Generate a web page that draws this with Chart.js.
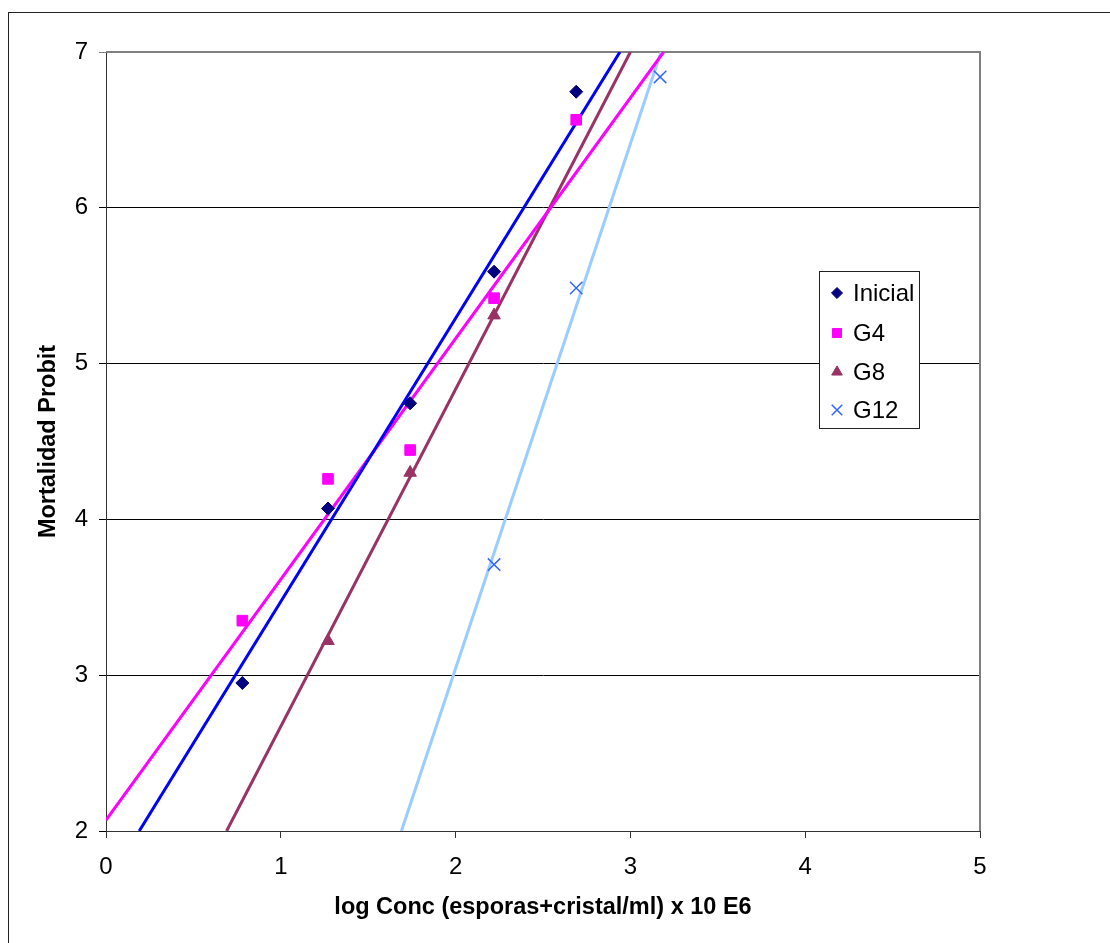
<!DOCTYPE html>
<html>
<head>
<meta charset="utf-8">
<script src="https://cdn.jsdelivr.net/npm/chart.js@4.4.1/dist/chart.umd.min.js"></script>
<style>
  html, body { margin: 0; padding: 0; background: #fff; }
  #wrap { width: 1110px; height: 943px; }
</style>
</head>
<body>
<div id="wrap"><canvas id="probitChart" width="1110" height="943"></canvas></div>
<script>
// log concentration of each dose (x)
const logConc = [0.78, 1.27, 1.74, 2.22, 2.69, 3.17];

// probit mortality per generation, aligned with logConc
const inicial = [2.95, 4.07, 4.745, 5.59, 6.745, null];
const g4 = [3.35, 4.26, 4.445, 5.42, 6.565, null];
const g8 = [null, 3.22, 4.30, 5.31, null, null];
const g12 = [null, null, null, 3.71, 5.485, 6.84];

const seriesNames = ['Inicial', 'G4', 'G8', 'G12'];

// trend lines, visible end points
const trendStartX = [0.19, 0, 0.69, 1.69];
const trendStartY = [2, 2.07, 2, 2];
const trendEndX = [2.94, 3.19, 3.0, 3.175];
const trendEndY = [7, 7, 7, 7];

const xTicks = [0, 1, 2, 3, 4, 5];
const yTicks = [2, 3, 4, 5, 6, 7];

const FONT = '"Liberation Sans", Arial, sans-serif';

function toPoints(ys) {
    const pts = [];
    ys.forEach((y, i) => {
        if (y !== null) pts.push({ x: logConc[i], y: y });
    });
    return pts;
}

const markerStyles = [
    { pointStyle: 'rectRot', color: '#000080', radius: 6.5, border: 1 },
    { pointStyle: 'rect', color: '#FF00FF', radius: 7.5, border: 1 },
    { pointStyle: 'triangle', color: '#993366', radius: 7.2, border: 1 },
    { pointStyle: 'crossRot', color: '#3366FF', radius: 8.8, border: 1.5 }
];
const trendColors = ['#0000FF', '#FF00FF', '#993366', '#99CCFF'];
const seriesValues = [inicial, g4, g8, g12];

const datasets = [];
seriesValues.forEach((vals, i) => {
    const m = markerStyles[i];
    datasets.push({
        label: seriesNames[i],
        data: toPoints(vals),
        showLine: false,
        pointStyle: m.pointStyle,
        pointRadius: m.radius,
        pointHoverRadius: m.radius,
        pointBackgroundColor: m.color,
        pointBorderColor: m.color,
        pointBorderWidth: m.border
    });
});
trendColors.forEach((c, i) => {
    datasets.push({
        label: 'trend ' + seriesNames[i],
        data: [
            { x: trendStartX[i], y: trendStartY[i] },
            { x: trendEndX[i], y: trendEndY[i] }
        ],
        showLine: true,
        borderColor: c,
        borderWidth: 3,
        pointRadius: 0,
        clip: 0
    });
});

// outer frame + plot border + legend box
const decorations = {
    id: 'decorations',
    beforeDraw(chart) {
        const ctx = chart.ctx;
        ctx.save();
        ctx.fillStyle = '#fff';
        ctx.fillRect(0, 0, chart.width, chart.height);
        ctx.strokeStyle = '#222';
        ctx.lineWidth = 1;
        ctx.strokeRect(8.5, 12.5, 1200, 1000);
        ctx.restore();
    },
    beforeDatasetsDraw(chart) {
        const { ctx, chartArea } = chart;
        ctx.save();
        ctx.strokeStyle = '#808080';
        ctx.lineWidth = 2;
        ctx.beginPath();
        ctx.moveTo(chartArea.left, chartArea.top);
        ctx.lineTo(chartArea.right, chartArea.top);
        ctx.lineTo(chartArea.right, chartArea.bottom);
        ctx.stroke();
        ctx.restore();
    },
    afterDraw(chart) {
        const ctx = chart.ctx;
        const bx = 819.5, by = 271.5, bw = 100, bh = 157;
        ctx.save();
        ctx.fillStyle = '#fff';
        ctx.fillRect(bx, by, bw, bh);
        ctx.strokeStyle = '#222';
        ctx.lineWidth = 1;
        ctx.strokeRect(bx, by, bw, bh);
        ctx.font = '24px ' + FONT;
        ctx.textBaseline = 'middle';
        const rowY = [293, 333, 372, 410];
        seriesNames.forEach((name, i) => {
            const m = markerStyles[i];
            const opts = {
                pointStyle: m.pointStyle,
                radius: m.radius * 0.85,
                rotation: 0,
                borderWidth: m.border
            };
            ctx.fillStyle = m.color;
            ctx.strokeStyle = m.color;
            ctx.lineWidth = m.border;
            Chart.helpers.drawPoint(ctx, opts, 837, rowY[i]);
            ctx.fillStyle = '#000';
            ctx.fillText(name, 853, rowY[i] + 1);
        });
        ctx.restore();
    }
};

const ctx = document.getElementById('probitChart').getContext('2d');
new Chart(ctx, {
    type: 'scatter',
    data: { datasets: datasets },
    options: {
        responsive: false,
        animation: false,
        events: [],
        layout: {
            padding: { left: 34, top: 52, right: 130, bottom: 21 }
        },
        plugins: {
            legend: { display: false },
            tooltip: { enabled: false }
        },
        scales: {
            x: {
                type: 'linear',
                min: 0,
                max: 5,
                afterBuildTicks: scale => { scale.ticks = xTicks.map(v => ({ value: v })); },
                afterFit: scale => { scale.height = 91; },
                ticks: {
                    color: '#000',
                    padding: 15,
                    font: { family: FONT, size: 24 }
                },
                grid: {
                    drawOnChartArea: false,
                    tickLength: 7,
                    color: '#333'
                },
                border: { color: '#333', width: 1 },
                title: {
                    display: true,
                    text: 'log Conc (esporas+cristal/ml) x 10 E6',
                    color: '#000',
                    padding: 0,
                    font: { family: FONT, size: 23.5, weight: 'bold' }
                }
            },
            y: {
                type: 'linear',
                min: 2,
                max: 7,
                afterBuildTicks: scale => { scale.ticks = yTicks.map(v => ({ value: v })); },
                afterFit: scale => { scale.width = 72; },
                ticks: {
                    color: '#000',
                    padding: 11,
                    font: { family: FONT, size: 24 }
                },
                grid: {
                    tickLength: 7,
                    color: c => (c.tick && c.tick.value === 7 ? '#808080' : '#000'),
                    lineWidth: 1
                },
                border: { color: '#333', width: 1 },
                title: {
                    display: true,
                    text: 'Mortalidad Probit',
                    color: '#000',
                    padding: 0,
                    font: { family: FONT, size: 23.5, weight: 'bold' }
                }
            }
        }
    },
    plugins: [decorations]
});
</script>
</body>
</html>
